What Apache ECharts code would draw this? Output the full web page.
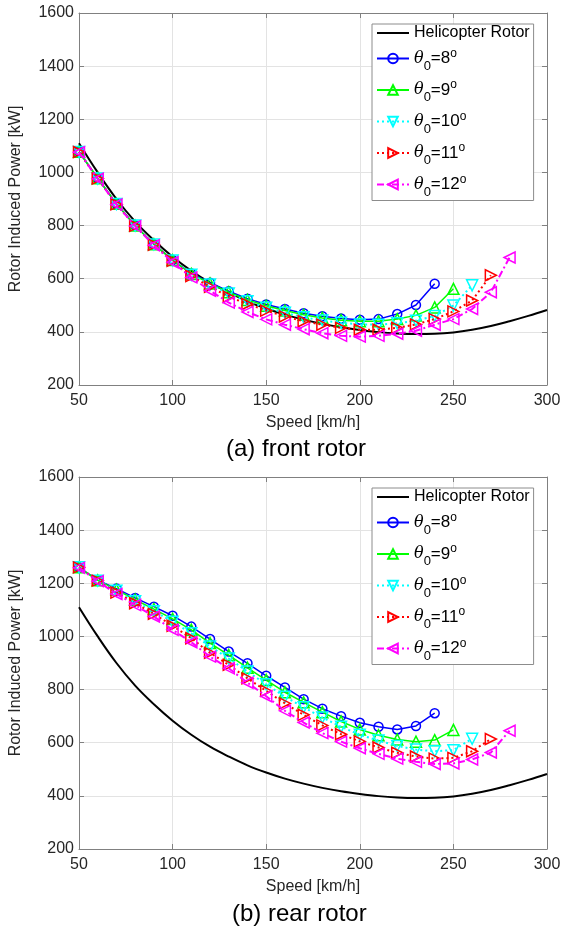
<!DOCTYPE html>
<html>
<head>
<meta charset="utf-8">
<script src="https://cdn.jsdelivr.net/npm/echarts@6/dist/echarts.min.js"></script>
<style>
html,body{margin:0;padding:0;background:#fff;}
#chart{width:567px;height:931px;}
</style>
</head>
<body>
<div id="chart"></div>
<script>
// ---------- data ----------
const heliSpeed = [50,60,70,80,90,100,110,120,130,140,150,160,170,180,190,200,210,220,230,240,250,260,270,280,290,300];
const heliPower = [1110,1000,900,815,745,683,630,585,548,515,488,465,446,430,417,407,399,394,392,393,398,408,422,440,460,482];

const speed8  = [50,60,70,80,90,100,110,120,130,140,150,160,170,180,190,200,210,220,230,240];
const speed9  = [50,60,70,80,90,100,110,120,130,140,150,160,170,180,190,200,210,220,230,240,250];
const speed10 = [50,60,70,80,90,100,110,120,130,140,150,160,170,180,190,200,210,220,230,240,250,260];
const speed11 = [50,60,70,80,90,100,110,120,130,140,150,160,170,180,190,200,210,220,230,240,250,260,270];
const speed12 = [50,60,70,80,90,100,110,120,130,140,150,160,170,180,190,200,210,220,230,240,250,260,270,280];

// (a) front rotor
const front8  = [1078,978,882,800,730,670,620,585,553,525,503,486,470,459,450,446,448,467,501,581];
const front9  = [1078,978,882,800,730,670,618,582,549,520,498,480,464,452,444,440,440,448,462,492,562];
const front10 = [1077,977,881,800,729,669,615,578,544,515,491,472,455,443,434,428,427,432,442,460,499,575];
const front11 = [1077,977,880,799,728,667,610,570,532,505,480,458,440,427,415,408,408,415,428,448,477,518,613];
const front12 = [1076,976,879,798,726,662,605,555,510,475,447,427,410,395,385,382,385,393,404,427,448,486,549,680];

// (b) rear rotor
const rear8  = [1260,1212,1180,1145,1112,1078,1037,990,943,899,852,808,764,728,700,675,660,650,663,711];
const rear9  = [1260,1211,1176,1138,1103,1066,1025,975,930,882,836,790,752,715,680,650,628,612,604,610,648];
const rear10 = [1260,1210,1172,1132,1095,1055,1012,962,917,868,820,773,733,695,660,630,608,588,574,568,572,615];
const rear11 = [1260,1210,1165,1125,1085,1040,993,938,893,842,795,748,705,665,632,605,582,562,548,540,543,568,614];
const rear12 = [1258,1208,1160,1118,1075,1025,978,924,880,826,775,720,676,636,604,579,558,540,528,520,522,537,563,645];

const pitchAngles = [8,9,10,11,12];
const heliName = 'Helicopter Rotor';
const captions = ['(a) front rotor','(b) rear rotor'];
const xLabel = 'Speed [km/h]';
const yLabel = 'Rotor Induced Power [kW]';

// ---------- styles ----------
const FONT = 'Liberation Sans, Arial, Helvetica, sans-serif';
const styles = [
  {color:'#0000ff', symbol:'circle',   rot:0,   size:9,  dash:'solid',   width:1.5},
  {color:'#00ff00', symbol:'triangle', rot:0,   size:11, dash:'solid',   width:1.5},
  {color:'#00ffff', symbol:'triangle', rot:180, size:11, dash:[2,3],     width:2},
  {color:'#ff0000', symbol:'triangle', rot:-90, size:11, dash:[2,3],     width:2},
  {color:'#ff00ff', symbol:'triangle', rot:90,  size:11, dash:[7,3,2,3], width:2}
];
const speeds = [speed8, speed9, speed10, speed11, speed12];
const frontSets = [front8, front9, front10, front11, front12];
const rearSets = [rear8, rear9, rear10, rear11, rear12];
const seriesNames = pitchAngles.map(a => 'θ0=' + a + '°');

const plotL = 77, plotW = 470, plotH = 372;
const tops = [13, 477];

function pairs(xs, ys){ return xs.map((x,i)=>[x, ys[i]]); }
const plain = v => String(v);

const grid = tops.map(t => ({left:plotL, top:t, width:plotW, height:plotH}));
const xAxis = [], yAxis = [];
tops.forEach((t, g) => {
  xAxis.push({
    type:'value', gridIndex:g, min:50, max:300, interval:50, position:'bottom',
    name:xLabel, nameLocation:'middle', nameGap:30,
    nameTextStyle:{fontFamily:FONT, fontSize:16, color:'#262626'},
    axisLine:{show:true, onZero:false, lineStyle:{color:'#808080', width:1}},
    axisTick:{inside:true, length:5, lineStyle:{color:'#808080'}},
    axisLabel:{fontFamily:FONT, fontSize:16, color:'#262626', margin:8, formatter:plain},
    splitLine:{show:true, lineStyle:{color:'#e3e3e3', width:1}}
  });
  xAxis.push({
    type:'value', gridIndex:g, min:50, max:300, interval:50, position:'top',
    axisLine:{show:true, onZero:false, lineStyle:{color:'#808080', width:1}},
    axisTick:{inside:true, length:5, lineStyle:{color:'#808080'}},
    axisLabel:{show:false}, splitLine:{show:false}
  });
  yAxis.push({
    type:'value', gridIndex:g, min:200, max:1600, interval:200, position:'left',
    name:yLabel, nameLocation:'middle', nameGap:55, nameRotate:90,
    nameTextStyle:{fontFamily:FONT, fontSize:16, color:'#262626'},
    axisLine:{show:true, onZero:false, lineStyle:{color:'#808080', width:1}},
    axisTick:{inside:true, length:5, lineStyle:{color:'#808080'}},
    axisLabel:{fontFamily:FONT, fontSize:16, color:'#262626', margin:5, formatter:plain},
    splitLine:{show:true, lineStyle:{color:'#e3e3e3', width:1}}
  });
  yAxis.push({
    type:'value', gridIndex:g, min:200, max:1600, interval:200, position:'right',
    axisLine:{show:true, onZero:false, lineStyle:{color:'#808080', width:1}},
    axisTick:{inside:true, length:5, lineStyle:{color:'#808080'}},
    axisLabel:{show:false}, splitLine:{show:false}
  });
});

const series = [];
[frontSets, rearSets].forEach((sets, g) => {
  series.push({
    type:'line', name:heliName, xAxisIndex:2*g, yAxisIndex:2*g,
    data:pairs(heliSpeed, heliPower), smooth:0.4, symbol:'none', showSymbol:false,
    lineStyle:{color:'#000', width:2}, itemStyle:{color:'#000'}, z:2
  });
  sets.forEach((vals, i) => {
    const s = styles[i];
    series.push({
      type:'line', name:seriesNames[i], xAxisIndex:2*g, yAxisIndex:2*g,
      data:pairs(speeds[i], vals), symbol:s.symbol, symbolSize:s.size, symbolRotate:s.rot,
      showAllSymbol:true,
      itemStyle:{color:'rgba(0,0,0,0)', borderColor:s.color, borderWidth:1.5},
      lineStyle:{color:s.color, width:s.width, type:s.dash},
      z:3+i
    });
  });
});

const legendRich = {
  h:{fontFamily:FONT, fontSize:16, color:'#000', lineHeight:20},
  th:{fontFamily:'DejaVu Serif', fontStyle:'italic', fontSize:16, color:'#000', lineHeight:28, verticalAlign:'middle'},
  sub:{fontFamily:FONT, fontSize:13, color:'#000', lineHeight:14, verticalAlign:'bottom'},
  n:{fontFamily:FONT, fontSize:17, color:'#000', verticalAlign:'middle'},
  sup:{fontFamily:FONT, fontSize:12, color:'#000', lineHeight:12, verticalAlign:'top', padding:[3,0,0,0]}
};
function legendFmt(name){
  if (name === heliName) return '{h|' + name + '}';
  const deg = name.replace('θ0=','').replace('°','');
  return '{th|θ}{sub|0}{n|=' + deg + '}{sup|o}';
}
const legendData = [{name:heliName, itemStyle:{opacity:0}}].concat(seriesNames.map(n => ({name:n})));
const legend = tops.map(t => ({
  orient:'vertical', left:372, top:t+11, itemWidth:32, itemHeight:12, itemGap:3.5,
  padding:[1,4,2,4], backgroundColor:'#fff', borderColor:'#8c8c8c', borderWidth:1,
  data:legendData, formatter:legendFmt,
  textStyle:{fontFamily:FONT, fontSize:16, color:'#000', rich:legendRich},
  selectedMode:false
}));

const graphic = [
  {type:'text', left:226, top:437, style:{text:captions[0], fontFamily:FONT, fontSize:24, fill:'#000'}},
  {type:'text', left:232, top:902, style:{text:captions[1], fontFamily:FONT, fontSize:24, fill:'#000'}}
];

const chart = echarts.init(document.getElementById('chart'), null, {renderer:'canvas'});
chart.setOption({
  animation:false, backgroundColor:'#fff',
  grid, xAxis, yAxis, series, legend, graphic
});
</script>
</body>
</html>
